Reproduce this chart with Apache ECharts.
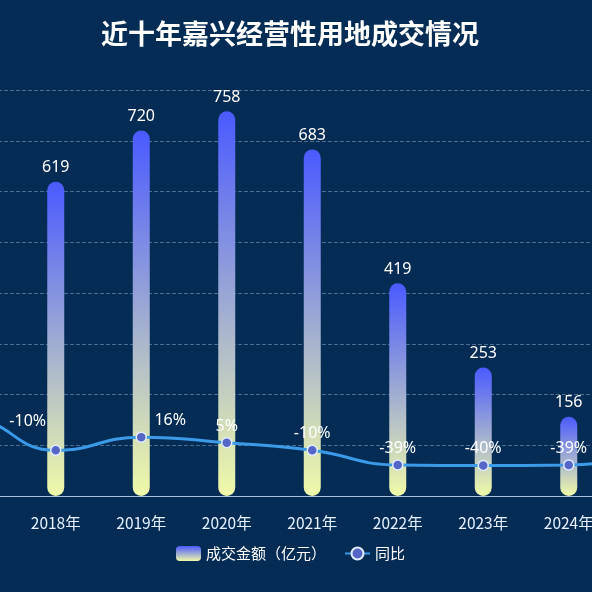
<!DOCTYPE html>
<html>
<head>
<meta charset="utf-8">
<script src="https://cdn.jsdelivr.net/npm/echarts@6/dist/echarts.min.js"></script>
<style>
  html, body { margin: 0; padding: 0; background: #052c55; overflow: hidden; }
  #wrap { position: relative; width: 592px; height: 592px; overflow: hidden; }
  /* the original chart is wider than the window: 2016/2017 and 2025 fall outside */
  #chart { position: absolute; left: -158px; top: 0; width: 855px; height: 592px; }
</style>
</head>
<body>
<div id="wrap"><div id="chart"></div></div>
<script>
// data
const years = ["2016年", "2017年", "2018年", "2019年", "2020年", "2021年", "2022年", "2023年", "2024年", "2025年"];
const amount = [460, 688, 619, 720, 758, 683, 419, 253, 156, 125];
const yoy = [20, 50, -10, 16, 5, -10, -39, -40, -39, -20];

// a couple of labels sit off to the side in the original
const labelShift = { 2: [-28, -12], 3: [29, 0] };

const shiftX = 158; // page x -> chart x

const chart = echarts.init(document.getElementById("chart"));

const barColor = new echarts.graphic.LinearGradient(0, 0, 0, 1, [
	{ offset: 0, color: "#4a5aff" },
	{ offset: 1, color: "#f0faa8" },
]);

const option = {
	backgroundColor: "#052c55",
	title: {
		text: "近十年嘉兴经营性用地成交情况",
		left: 285 + shiftX,
		textAlign: "center",
		top: 15,
		textStyle: { color: "#ffffff", fontSize: 27, fontWeight: "bold", fontFamily: "Noto Sans CJK SC" },
	},
	legend: {
		top: 541,
		left: 171 + shiftX,
		itemWidth: 25,
		itemHeight: 15,
		itemGap: 18,
		textStyle: { color: "#ffffff", fontSize: 15, fontFamily: "Noto Sans CJK SC" },
		data: [
			{ name: "成交金额（亿元）", icon: "roundRect" },
			{ name: "同比" },
		],
	},
	grid: { left: 0, right: 0, top: 90, bottom: 96, containLabel: false },
	xAxis: {
		type: "category",
		data: years,
		axisTick: { show: false },
		axisLine: { lineStyle: { color: "#a9c3da", width: 1 } },
		axisLabel: { color: "#e6f2ff", fontSize: 15.5, margin: 19, fontFamily: "Noto Sans CJK SC" },
	},
	yAxis: [
		{
			type: "value",
			min: 0,
			max: 800,
			interval: 100,
			axisLabel: { show: false },
			axisLine: { show: false },
			splitLine: { lineStyle: { color: "rgba(160,190,220,0.45)", type: "dashed" } },
		},
		{
			type: "value",
			min: -100,
			max: 700,
			interval: 100,
			show: false,
		},
	],
	series: [
		{
			name: "成交金额（亿元）",
			type: "bar",
			data: amount,
			barWidth: 17,
			itemStyle: { color: barColor, borderRadius: 9 },
			label: {
				show: true,
				position: "top",
				distance: 6,
				color: "#ffffff",
				fontSize: 16,
				fontFamily: "Noto Sans",
			},
		},
		{
			name: "同比",
			type: "line",
			yAxisIndex: 1,
			smooth: true,
			symbol: "circle",
			symbolSize: 10,
			z: 5,
			data: yoy.map((v, i) => {
				const item = { value: v };
				if (labelShift[i]) item.label = { offset: labelShift[i] };
				return item;
			}),
			lineStyle: { color: "#3b9be8", width: 3 },
			itemStyle: { color: "#5666c6", borderColor: "#e2ecff", borderWidth: 1.5 },
			label: {
				show: true,
				position: "top",
				distance: 3,
				color: "#ffffff",
				fontSize: 16,
				fontFamily: "Noto Sans",
				formatter: (p) => p.value + "%",
			},
		},
	],
};

chart.setOption(option);
</script>
</body>
</html>
